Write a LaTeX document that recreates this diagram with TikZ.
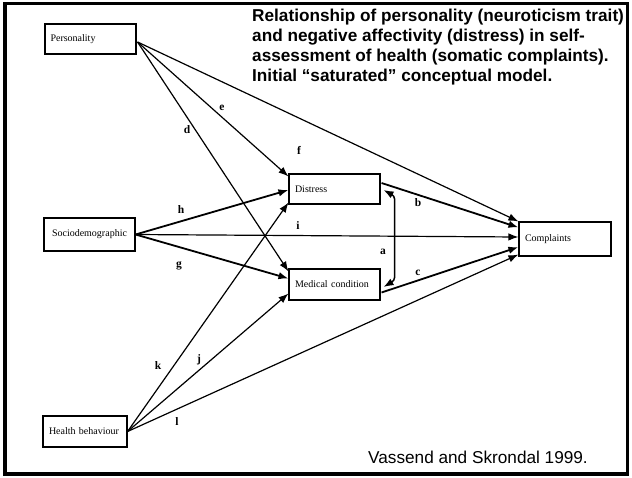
\documentclass[tikz,border=0pt]{standalone}
\usepackage{fontspec}
\setmainfont{Liberation Serif}
\newfontfamily\headfont{Liberation Sans}
\usetikzlibrary{arrows.meta,calc}

\tikzset{
  box/.style={draw, line width=1.1pt, inner ysep=0pt, inner xsep=6pt, align=left,
              font=\fontsize{10}{11}\selectfont},
  tip/.style={-{Latex[length=10pt,width=7.5pt]}},
  conn/.style={line width=1.2pt, tip},
  strongconn/.style={conn, line width=1.8pt},
  lbl/.style={font=\bfseries\fontsize{11.5}{12}\selectfont, inner sep=0pt},
}

\begin{document}
\begin{tikzpicture}[x=1pt,y=-1pt]
\useasboundingbox (0,0) rectangle (632,477);
\draw[line width=3.5pt] (5,3.3) rectangle (627.5,474);

% variables
\node[box, minimum width=91pt, minimum height=30pt, text width=80pt, inner xsep=5pt] (pers) at (90.5,39) {Personality};
\node[box, minimum width=91pt, minimum height=33pt, text width=75pt, inner xsep=8pt] (socio) at (89.5,234.5) {Sociodemographic};
\node[box, minimum width=84pt, minimum height=31pt, text width=72pt] (health) at (85,431.5) {Health behaviour};
\node[box, minimum width=91pt, minimum height=30pt, text width=79pt] (dist) at (334.5,189) {Distress};
\node[box, minimum width=91pt, minimum height=31pt, text width=79pt] (med) at (334.5,284.5) {Medical condition};
\node[box, minimum width=92pt, minimum height=34pt, text width=80pt] (comp) at (565,239) {Complaints};

% paths from personality
\draw[conn] ($(pers.east)+(1,3)$) -- ($(dist.north west)+(0,3)$);
\draw[conn] ($(pers.east)+(1,3)$) -- ($(med.north west)+(0,3)$);
\draw[conn] ($(pers.east)+(1,3)$) -- ($(comp.north west)+(0,0)$);

% paths from sociodemographic
\draw[strongconn] (socio.east) -- ($(dist.west)+(0,1)$);
\draw[conn] (socio.east) -- ($(comp.west)+(0,-2)$);
\draw[strongconn] (socio.east) -- ($(med.west)+(0,-6)$);

% paths from health behaviour
\draw[conn] (health.east) -- ($(dist.south west)+(0,-2)$);
\draw[conn] (health.east) -- ($(med.south west)+(0,-7)$);
\draw[conn] (health.east) -- ($(comp.south west)+(0,-2)$);

% mediators to complaints
\draw[strongconn] ($(dist.east)+(1,-6)$) -- ($(comp.north west)+(0,6)$);
\draw[strongconn] ($(med.east)+(1,8)$) -- ($(comp.west)+(0,8)$);

% correlation between distress and medical condition
\draw[line width=1.5pt, rounded corners=3pt, {Latex[length=10pt,width=7.5pt]}-{Latex[length=10pt,width=7.5pt]}]
  ($(dist.east)+(3,1)$) -- ($(dist.east)+(14,7)$) -- ($(med.east)+(14,-4)$) -- ($(med.east)+(3,2.5)$);

% path labels
\node[lbl] (la) at (383,252) {a};
\node[lbl] (lb) at (418,203) {b};
\node[lbl] (lc) at (418,273) {c};
\node[lbl] (ld) at (187,130) {d};
\node[lbl] (le) at (222,108) {e};
\node[lbl] (lf) at (299,150) {f};
\node[lbl] (lg) at (179,266) {g};
\node[lbl] (lh) at (181,210) {h};
\node[lbl] (li) at (298,226) {i};
\node[lbl] (lj) at (199,360) {j};
\node[lbl] (lk) at (158,366) {k};
\node[lbl] (ll) at (177,422) {l};

% heading and source
\node[anchor=north west, inner sep=0pt, align=left,
      font=\headfont\bfseries\fontsize{17.2}{20}\selectfont] (title) at (252,8.5)
  {Relationship of personality (neuroticism trait)\\
   and negative affectivity (distress) in self-\\
   assessment of health (somatic complaints).\\
   Initial “saturated” conceptual model.};
\node[anchor=base west, inner sep=0pt, font=\headfont\fontsize{17.2}{20}\selectfont] (source) at (368,463)
  {Vassend and Skrondal 1999.};
\end{tikzpicture}
\end{document}
